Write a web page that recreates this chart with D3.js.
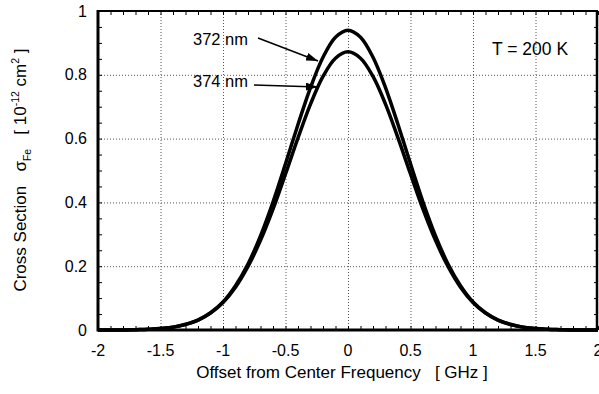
<!DOCTYPE html>
<html>
<head>
<meta charset="utf-8">
<script src="https://cdn.jsdelivr.net/npm/d3@7"></script>
<style>
  body { margin: 0; background: #fff; }
  svg { display: block; font-family: "Liberation Sans", Arial, Helvetica, sans-serif; }
</style>
</head>
<body>
<div class="canvas"></div>
<script>
const margin = {top: 11, right: 1, bottom: 64, left: 98}
const width = 599, height = 394
const graphWidth = width - margin.left - margin.right
const graphHeight = height - margin.top - margin.bottom

// values
const offsets = [-2, -1.9, -1.8, -1.7, -1.6, -1.5, -1.4, -1.3, -1.2, -1.1, -1,
  -0.9, -0.8, -0.7, -0.6, -0.5, -0.4, -0.3, -0.2, -0.1, 0,
  0.1, 0.2, 0.3, 0.4, 0.5, 0.6, 0.7, 0.8, 0.9, 1,
  1.1, 1.2, 1.3, 1.4, 1.5, 1.6, 1.7, 1.8, 1.9, 2]
const cs372 = [0, 0, 0, 0.001, 0.002, 0.005, 0.009, 0.017, 0.031, 0.054, 0.088,
  0.139, 0.207, 0.295, 0.401, 0.521, 0.644, 0.760, 0.855, 0.918, 0.940,
  0.918, 0.855, 0.760, 0.644, 0.521, 0.401, 0.295, 0.207, 0.139, 0.088,
  0.054, 0.031, 0.017, 0.009, 0.005, 0.002, 0.001, 0, 0, 0]
const cs374 = [0, 0, 0, 0.001, 0.002, 0.005, 0.009, 0.018, 0.031, 0.053, 0.086,
  0.134, 0.199, 0.281, 0.379, 0.489, 0.602, 0.708, 0.795, 0.852, 0.872,
  0.852, 0.795, 0.708, 0.602, 0.489, 0.379, 0.281, 0.199, 0.134, 0.086,
  0.053, 0.031, 0.018, 0.009, 0.005, 0.002, 0.001, 0, 0, 0]
const xTicks = [-2, -1.5, -1, -0.5, 0, 0.5, 1, 1.5, 2]
const yTicks = [0, 0.2, 0.4, 0.6, 0.8, 1]

const svg = d3.select('.canvas')
  .append('svg')
  .attr('width', width)
  .attr('height', height)

const graph = svg.append('g')
  .attr('transform', `translate(${margin.left}, ${margin.top})`)

const x = d3.scaleLinear().domain([-2, 2]).range([0, graphWidth])
const y = d3.scaleLinear().domain([0, 1]).range([graphHeight, 0])

// dotted grid
const grid = graph.append('g')
  .attr('stroke', '#555')
  .attr('stroke-width', 1)
  .attr('stroke-dasharray', '1,2')
grid.selectAll('.gx').data(xTicks.slice(1, -1)).join('line')
  .attr('x1', d => x(d) + 0.5).attr('x2', d => x(d) + 0.5)
  .attr('y1', 0).attr('y2', graphHeight)
grid.selectAll('.gy').data(yTicks.slice(1, -1)).join('line')
  .attr('y1', d => y(d) + 0.5).attr('y2', d => y(d) + 0.5)
  .attr('x1', 0).attr('x2', graphWidth)

// minor ticks, pointing inward on all four sides
const xMinor = d3.range(-20, 21).map(i => i / 10)
const yMinor = d3.range(0, 21).map(i => i / 20)

const xAxisBottom = d3.axisBottom(x).tickValues(xMinor).tickSize(-4).tickFormat('')
const xAxisTop = d3.axisTop(x).tickValues(xMinor).tickSize(-4).tickFormat('')
const yAxisLeft = d3.axisLeft(y).tickValues(yMinor).tickSize(-4).tickFormat('')
const yAxisRight = d3.axisRight(y).tickValues(yMinor).tickSize(-4).tickFormat('')

graph.append('g').attr('transform', `translate(0, ${graphHeight})`).call(xAxisBottom)
graph.append('g').call(xAxisTop)
graph.append('g').call(yAxisLeft)
graph.append('g').attr('transform', `translate(${graphWidth}, 0)`).call(yAxisRight)
graph.selectAll('.domain').remove()
graph.selectAll('.tick line').attr('stroke', '#000').attr('stroke-width', 1)

// frame: heavy left/bottom, lighter top/right
graph.append('line').attr('x1', 0).attr('x2', graphWidth).attr('y1', 0).attr('y2', 0)
  .attr('stroke', '#000').attr('stroke-width', 2)
graph.append('line').attr('x1', graphWidth - 1).attr('x2', graphWidth - 1).attr('y1', 0).attr('y2', graphHeight)
  .attr('stroke', '#000').attr('stroke-width', 2.5)
graph.append('line').attr('x1', 0).attr('x2', 0).attr('y1', -1).attr('y2', graphHeight + 1.5)
  .attr('stroke', '#000').attr('stroke-width', 3)
graph.append('line').attr('x1', 0).attr('x2', graphWidth).attr('y1', graphHeight).attr('y2', graphHeight)
  .attr('stroke', '#000').attr('stroke-width', 3)

// tick labels
graph.selectAll('.xl').data(xTicks).join('text')
  .attr('x', d => x(d))
  .attr('y', graphHeight + 26)
  .attr('text-anchor', 'middle')
  .attr('font-size', 16)
  .text(d => d)
graph.selectAll('.yl').data(yTicks).join('text')
  .attr('x', -11)
  .attr('y', d => y(d))
  .attr('dy', '0.35em')
  .attr('text-anchor', 'end')
  .attr('font-size', 16)
  .text(d => d)

// curves
const line = d3.line()
  .x((d, i) => x(offsets[i]))
  .y(d => y(d))
  .curve(d3.curveCatmullRom)

graph.append('path').datum(cs374)
  .attr('d', line).attr('fill', 'none')
  .attr('stroke', '#000').attr('stroke-width', 3.5)
graph.append('path').datum(cs372)
  .attr('d', line).attr('fill', 'none')
  .attr('stroke', '#000').attr('stroke-width', 3.5)

// annotations
svg.append('defs').append('marker')
  .attr('id', 'head')
  .attr('viewBox', '0 0 12 8')
  .attr('refX', 12).attr('refY', 4)
  .attr('markerWidth', 12).attr('markerHeight', 8)
  .attr('markerUnits', 'userSpaceOnUse')
  .attr('orient', 'auto')
  .append('path').attr('d', 'M0,0 L12,4 L0,8 Z').attr('fill', '#000')

svg.append('text').attr('x', 193).attr('y', 45).attr('font-size', 16.5).text('372 nm')
svg.append('text').attr('x', 193).attr('y', 87).attr('font-size', 16.5).text('374 nm')
svg.append('line').attr('x1', 258).attr('y1', 38).attr('x2', 318).attr('y2', 61)
  .attr('stroke', '#000').attr('stroke-width', 1.5).attr('marker-end', 'url(#head)')
svg.append('line').attr('x1', 254).attr('y1', 85).attr('x2', 318).attr('y2', 87)
  .attr('stroke', '#000').attr('stroke-width', 1.5).attr('marker-end', 'url(#head)')

svg.append('text').attr('x', 492).attr('y', 55).attr('font-size', 17.5).text('T = 200 K')

// axis titles
svg.append('text')
  .attr('x', 342)
  .attr('y', 378)
  .attr('text-anchor', 'middle')
  .attr('font-size', 17)
  .attr('xml:space', 'preserve')
  .text('Offset from Center Frequency   [ GHz ]')

const yTitle = svg.append('text')
  .attr('transform', 'translate(26, 170) rotate(-90)')
  .attr('text-anchor', 'middle')
  .attr('font-size', 17)
  .attr('xml:space', 'preserve')
yTitle.append('tspan').text('Cross Section   σ')
yTitle.append('tspan').attr('font-size', 10.5).attr('dy', 5).text('Fe')
yTitle.append('tspan').attr('dy', -5).text('   [ 10')
yTitle.append('tspan').attr('font-size', 10.5).attr('dy', -7).text('-12')
yTitle.append('tspan').attr('dy', 7).text(' cm')
yTitle.append('tspan').attr('font-size', 10.5).attr('dy', -7).text('2')
yTitle.append('tspan').attr('dy', 7).text(' ]')
</script>
</body>
</html>
